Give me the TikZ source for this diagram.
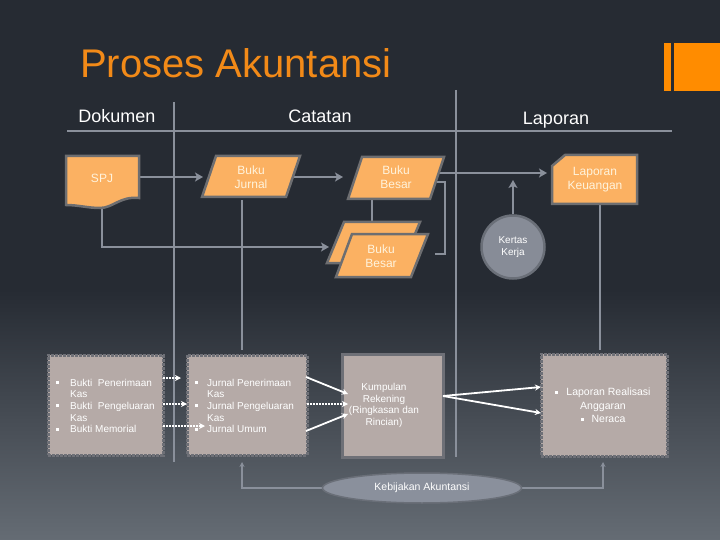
\documentclass[tikz,border=0pt]{standalone}
\usepackage{fontspec}
\setmainfont{Liberation Sans}
\usetikzlibrary{shapes.geometric,arrows.meta}
\definecolor{cBgTop}{HTML}{262B33}
\definecolor{cBgBot}{HTML}{656C74}
\definecolor{cConn}{HTML}{8A909B}
\definecolor{cOrFill}{HTML}{FBB162}
\definecolor{cOrLine}{HTML}{6D6E71}
\definecolor{cCream}{HTML}{FFF3DC}
\definecolor{cTitle}{HTML}{F28A18}
\definecolor{cAccent}{HTML}{FF8C00}
\definecolor{cBox}{HTML}{B5AAA7}
\definecolor{cBoxLine}{HTML}{6E7077}
\definecolor{cKK}{HTML}{878C97}
\definecolor{cKKLine}{HTML}{6A6F78}
\definecolor{cEll}{HTML}{8A909C}
\newcommand\mybul{\rule[2pt]{3pt}{3pt}}
\begin{document}
\begin{tikzpicture}[x=1pt,y=-1pt,
  gridline/.style={draw=cConn,line width=2.5pt},
  cline/.style={draw=cConn,line width=2.5pt},
  garr/.style={cline,-{Stealth[length=8pt,width=9pt,inset=2pt]}},
  tline/.style={draw=cConn,line width=2pt},
  tarr/.style={tline,-{Stealth[length=5pt,width=5pt]}},
  orshape/.style={fill=cOrFill,draw=cOrLine,line width=2.5pt,line join=miter},
  ortext/.style={text=cCream,align=center,inner sep=0,font=\fontsize{12}{14}\selectfont},
  header/.style={anchor=base,inner sep=0,text=white,font=\fontsize{18}{20}\selectfont},
  lbox/.style={rectangle,fill=cBox,draw=cBoxLine,line width=3pt,dash pattern=on 3pt off 1pt,inner sep=0},
  sbox/.style={rectangle,fill=cBox,draw=cBoxLine,line width=3pt,inner sep=0},
  btext/.style={text=white,inner sep=0,font=\fontsize{10}{11.7}\selectfont},
  warr/.style={draw=white,line width=1.8pt,-{Stealth[length=6pt,width=6pt]}},
  wdot/.style={warr,dash pattern=on 2pt off 1pt}
]
\useasboundingbox (0,0) rectangle (720,540);
\fill[cBgTop] (0,0) rectangle (720,540);
\shade[top color=cBgTop,bottom color=cBgBot] (0,290) rectangle (720,540);

% title and accent
\node[anchor=base west,inner sep=0,text=cTitle,font=\fontsize{40}{48}\selectfont] (title) at (80,78) {Proses Akuntansi};
\fill[cAccent] (664,43) rectangle (671,91);
\fill[cAccent] (674,43) rectangle (720,91);

% headers
\node[header] (hdok) at (117,123) {Dokumen};
\node[header] (hcat) at (320,123) {Catatan};
\node[header] (hlap) at (556,125) {Laporan};

% grid lines
\coordinate (hL) at (67,131); \coordinate (hR) at (672,131);
\coordinate (v1t) at (174,102); \coordinate (v1b) at (174,462);
\coordinate (v2t) at (456,90); \coordinate (v2b) at (456,457);
\draw[gridline] (hL) -- (hR);
\draw[gridline] (v1t) -- (v1b);
\draw[gridline] (v2t) -- (v2b);

% connector coordinates
\coordinate (spjR) at (139,177);
\coordinate (bjL) at (203,177);
\coordinate (bjR) at (292,177);
\coordinate (bbL) at (343,177);
\coordinate (bbR) at (436,173);
\coordinate (lkL) at (547,173);
\coordinate (spjB) at (102,205);
\coordinate (bbkL) at (329,247);
\coordinate (bjB) at (242,200);
\coordinate (bjD) at (242,350);
\coordinate (bbB) at (372,198);
\coordinate (bbkT) at (372,223);
\coordinate (lkB) at (600,204);
\coordinate (lkD) at (600,350);
\coordinate (kkT) at (513,180);

\draw[garr] (spjR) -- (bjL);
\draw[garr] (bjR) -- (bbL);
\draw[garr] (bbR) -- (lkL);
\draw[garr] (spjB) |- (bbkL);
\draw[cline] (bjB) -- (bjD);
\draw[cline] (bbB) -- (bbkT);
\draw[cline] (lkB) -- (lkD);
\draw[tline] (437,182) -- (445,182) -- (445,254) -- (435,254);

% SPJ document
\draw[orshape] (66,156) -- (139,156) -- (139,198) .. controls (120,196) and (113,208) .. (100,208) .. controls (88,208) and (78,205) .. (66,205) -- cycle;
\node[ortext] (spj) at (102,178) {SPJ};

% Buku Jurnal
\draw[orshape] (202,197) -- (216,156) -- (300,156) -- (286,197) -- cycle;
\node[ortext] (bj) at (251,177) {Buku\\Jurnal};

% Buku Besar
\draw[orshape] (348,199) -- (362,157) -- (444,157) -- (430,199) -- cycle;
\node[ortext] (bb) at (396,177) {Buku\\Besar};

% stacked Buku Besar
\draw[orshape] (327,263) -- (344,222) -- (420,222) -- (403,263) -- cycle;
\draw[orshape] (336,277) -- (352,234) -- (428,234) -- (411,277) -- cycle;
\node[ortext] (bbk) at (381,256) {Buku\\Besar};

% Laporan Keuangan
\draw[orshape] (552,166) -- (565,155) -- (637,155) -- (637,204) -- (552,204) -- cycle;
\node[ortext] (lk) at (595,180) {Laporan\\Keuangan};

% Kertas Kerja
\node[circle,fill=cKK,draw=cKKLine,line width=2.5pt,minimum size=63pt,inner sep=0,text=white,align=center,font=\fontsize{10}{12}\selectfont] (kk) at (513,247) {Kertas\\Kerja};
\draw[garr] (kk.north) -- (kkT);

% lower boxes
\node[lbox,minimum width=115pt,minimum height=100pt] (b1) at (105.5,405) {};
\node[lbox,minimum width=120pt,minimum height=100pt] (b2) at (247,405) {};
\node[sbox,minimum width=101pt,minimum height=103pt] (b3) at (392.5,405.5) {};
\node[lbox,minimum width=126pt,minimum height=102pt] (b4) at (604,405) {};

\node[btext,anchor=base west] (t1) at (55.5,386) {\begin{tabular}[t]{@{}l@{}l@{}}
\makebox[14.5pt][l]{\mybul} & Bukti~ Penerimaan\\ & Kas\\
\makebox[14.5pt][l]{\mybul} & Bukti~ Pengeluaran\\ & Kas\\
\makebox[14.5pt][l]{\mybul} & Bukti Memorial\end{tabular}};
\node[btext,anchor=base west] (t2) at (194.3,386) {\begin{tabular}[t]{@{}l@{}l@{}}
\makebox[12.7pt][l]{\mybul} & Jurnal Penerimaan\\ & Kas\\
\makebox[12.7pt][l]{\mybul} & Jurnal Pengeluaran\\ & Kas\\
\makebox[12.7pt][l]{\mybul} & Jurnal Umum\end{tabular}};
\node[btext,align=center] (t3) at (384,405.5) {Kumpulan\\Rekening\\(Ringkasan dan\\Rincian)};
\node[btext,align=center,font=\fontsize{10.5}{13.5}\selectfont] (t4) at (603,405.5) {\mybul\hspace{8pt}Laporan Realisasi\\Anggaran\\\mybul\hspace{8pt}Neraca};

% white arrows
\coordinate (a1s) at (163,378); \coordinate (a1e) at (181,378);
\coordinate (a2s) at (163,404); \coordinate (a2e) at (187,404);
\coordinate (a3s) at (163,426); \coordinate (a3e) at (205,426);
\draw[wdot] (a1s) -- (a1e);
\draw[wdot] (a2s) -- (a2e);
\draw[wdot] (a3s) -- (a3e);
\coordinate (c1s) at (306,377); \coordinate (c1e) at (348,394);
\coordinate (c2s) at (307,404); \coordinate (c2e) at (348,404);
\coordinate (c3s) at (306,431); \coordinate (c3e) at (348,414);
\draw[warr] (c1s) -- (c1e);
\draw[wdot] (c2s) -- (c2e);
\draw[warr] (c3s) -- (c3e);
\coordinate (d0) at (443,396);
\coordinate (d1) at (541,387); \coordinate (d2) at (541,413);
\draw[warr] (d0) -- (d1);
\draw[warr] (d0) -- (d2);

% Kebijakan Akuntansi
\coordinate (kbL) at (242,462); \coordinate (kbR) at (603,462);
\draw[tarr] (322,488) -| (kbL);
\draw[tarr] (522,488) -| (kbR);
\node[ellipse,fill=cEll,draw=cKKLine,line width=1.5pt,minimum width=199pt,minimum height=30pt,inner sep=0,text=white,font=\fontsize{10.5}{12}\selectfont] (kb) at (422,488) {Kebijakan Akuntansi};
\end{tikzpicture}
\end{document}
